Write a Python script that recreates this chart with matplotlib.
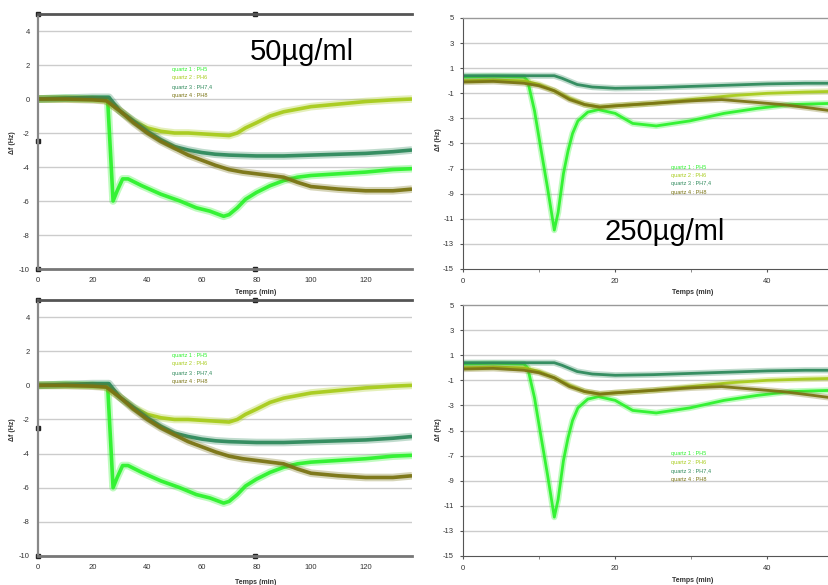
import matplotlib
matplotlib.use("Agg")
import matplotlib.pyplot as plt

W, H = 829, 585
plt.rcParams['font.family'] = ['Liberation Sans', 'DejaVu Sans']
plt.rcParams['axes.unicode_minus'] = False

# ---------------- data ----------------
series_names = ["quartz 1 : PH5", "quartz 2 : PH6", "quartz 3 : PH7,4", "quartz 4 : PH8"]
series_colors = ["#2ef22e", "#a8cc1c", "#2f8a5c", "#7a7414"]

# 50 µg/ml (left panels)
t50_q1 = [0, 10, 20, 25.5, 26.5, 27.5, 29, 31, 33, 38, 45, 52, 58, 63, 68, 70, 73, 76, 80, 85, 90, 95, 100, 110, 120, 130, 137]
v50_q1 = [0, 0.05, 0, 0, -3.0, -6.0, -5.4, -4.7, -4.7, -5.1, -5.6, -6.0, -6.4, -6.6, -6.9, -6.8, -6.4, -5.9, -5.5, -5.1, -4.8, -4.6, -4.5, -4.4, -4.3, -4.15, -4.1]
t50_q2 = [0, 10, 20, 25, 30, 35, 40, 45, 50, 55, 60, 65, 70, 73, 76, 80, 85, 90, 95, 100, 110, 120, 130, 137]
v50_q2 = [0, 0, 0, -0.1, -0.7, -1.3, -1.7, -1.9, -2.0, -2.0, -2.05, -2.1, -2.15, -2.0, -1.7, -1.4, -1.0, -0.75, -0.6, -0.45, -0.3, -0.15, -0.05, 0.0]
t50_q3 = [0, 10, 20, 26, 30, 35, 40, 45, 50, 55, 60, 65, 70, 80, 90, 100, 110, 120, 130, 137]
v50_q3 = [0, 0.05, 0.1, 0.1, -0.7, -1.3, -1.9, -2.4, -2.8, -3.0, -3.15, -3.25, -3.3, -3.35, -3.35, -3.3, -3.25, -3.2, -3.1, -3.0]
t50_q4 = [0, 10, 20, 25, 30, 35, 40, 45, 50, 55, 60, 65, 70, 75, 80, 85, 90, 95, 100, 110, 120, 130, 137]
v50_q4 = [0, 0, -0.05, -0.1, -0.7, -1.4, -2.0, -2.5, -2.9, -3.3, -3.6, -3.9, -4.15, -4.3, -4.4, -4.5, -4.6, -4.9, -5.15, -5.3, -5.4, -5.4, -5.3]

# 250 µg/ml (right panels)
t250_q1 = [0, 4, 8, 8.5, 9.4, 10.2, 11.1, 12, 12.5, 13.2, 13.8, 14.4, 15.1, 16.4, 17.8, 20, 22.3, 25.4, 29.8, 34.3, 38.7, 43, 48.5]
v250_q1 = [0.3, 0.35, 0.3, 0.0, -2.4, -5.3, -8.5, -11.9, -10.5, -7.4, -5.6, -4.2, -3.2, -2.5, -2.3, -2.6, -3.4, -3.6, -3.2, -2.6, -2.2, -1.9, -1.8]
t250_q2 = [0, 4, 8, 10, 12, 14, 16, 18, 20, 25, 30, 35, 40, 45, 48.5]
v250_q2 = [0.0, 0.05, 0.0, -0.3, -0.8, -1.4, -1.9, -2.1, -2.0, -1.8, -1.5, -1.2, -1.0, -0.9, -0.85]
t250_q3 = [0, 4, 8, 12, 13, 15, 17, 20, 25, 30, 35, 40, 45, 48.5]
v250_q3 = [0.4, 0.4, 0.4, 0.4, 0.2, -0.3, -0.5, -0.6, -0.55, -0.45, -0.35, -0.25, -0.2, -0.2]
t250_q4 = [0, 4, 8, 10, 12, 14, 16, 18, 20, 25, 30, 34, 38, 42, 46, 48.5]
v250_q4 = [-0.1, -0.05, -0.2, -0.4, -0.8, -1.5, -1.9, -2.1, -2.0, -1.8, -1.6, -1.5, -1.7, -1.9, -2.2, -2.4]

yticks_50 = [-10, -8, -6, -4, -2, 0, 2, 4]
xticks_50 = [0, 20, 40, 60, 80, 100, 120]
yticks_250 = [-15, -13, -11, -9, -7, -5, -3, -1, 1, 3, 5]
xticks_250 = [0, 20, 40]

data50 = [(t50_q1, v50_q1), (t50_q2, v50_q2), (t50_q3, v50_q3), (t50_q4, v50_q4)]
data250 = [(t250_q1, v250_q1), (t250_q2, v250_q2), (t250_q3, v250_q3), (t250_q4, v250_q4)]

fig = plt.figure(figsize=(W / 100, H / 100), dpi=100)


def add_ax(x0, y0, x1, y1):
    return fig.add_axes([x0 / W, 1 - y1 / H, (x1 - x0) / W, (y1 - y0) / H])


def draw_series(ax, data, band=5.0, core=2.4):
    for (t, v), c in zip(data, series_colors):
        ax.plot(t, v, color=c, lw=band, alpha=0.3, solid_joinstyle='round', solid_capstyle='butt')
        ax.plot(t, v, color=c, lw=core, alpha=0.95, solid_joinstyle='round', solid_capstyle='butt')


def left_panel(x0, y0, x1, y1, legend_xy, xlabel_y, ylabel_y):
    ax = add_ax(x0, y0, x1, y1)
    ax.set_xlim(0, 137)
    ax.set_ylim(-10, 5)
    ax.set_yticks(yticks_50)
    ax.set_xticks(xticks_50)
    ax.tick_params(length=0, labelsize=5.5, labelcolor='#333333', pad=6)
    for y in yticks_50[1:]:
        ax.axhline(y, color='#cccccc', lw=1.0, zorder=0)
    ax.spines['right'].set_visible(False)
    ax.spines['top'].set_color('#555555')
    ax.spines['top'].set_linewidth(2.0)
    ax.spines['bottom'].set_color('#777777')
    ax.spines['bottom'].set_linewidth(2.0)
    ax.spines['left'].set_color('#888888')
    ax.spines['left'].set_linewidth(1.6)
    ax.spines['left'].set_linestyle((0, (1.5, 1)))
    draw_series(ax, data50, band=5.5, core=2.6)
    # selection handles
    ax.plot([0, 0.58, 0, 0, 0.58], [1, 1, 0.5, 0, 0], ls='none', marker='s', ms=2.6,
            color='#222222', transform=ax.transAxes, clip_on=False)
    lx, ly = legend_xy
    for k, (name, c) in enumerate(zip(series_names, series_colors)):
        fig.text(lx / W, 1 - (ly + 9 * k) / H, name, color=c, fontsize=4, va='center', ha='left')
    fig.text(256 / W, 1 - xlabel_y / H, "Temps (min)", fontsize=5, fontweight='bold',
             color='#333333', ha='center', va='center')
    fig.text(13 / W, 1 - ylabel_y / H, "Δf (Hz)", fontsize=5, fontweight='bold',
             color='#333333', ha='center', va='center', rotation=90)
    return ax


def right_panel(x0, y0, x1, y1, legend_xy, xlabel_y, ylabel_y):
    ax = add_ax(x0, y0, x1, y1)
    ax.set_xlim(0, 48.1)
    ax.set_ylim(-15, 5)
    ax.set_yticks(yticks_250)
    ax.set_xticks(xticks_250)
    ax.set_xticks([10, 30], minor=True)
    ax.tick_params(length=2.5, width=0.8, color='#555555', labelsize=5.5, labelcolor='#333333', pad=4)
    ax.tick_params(which='minor', length=2, width=0.6, color='#777777')
    for y in yticks_250[1:-1]:
        ax.axhline(y, color='#cccccc', lw=1.0, zorder=0)
    ax.spines['right'].set_visible(False)
    ax.spines['top'].set_color('#999999')
    ax.spines['top'].set_linewidth(1.0)
    ax.spines['bottom'].set_color('#555555')
    ax.spines['left'].set_color('#555555')
    draw_series(ax, data250, band=4.5, core=2.0)
    lx, ly = legend_xy
    for k, (name, c) in enumerate(zip(series_names, series_colors)):
        fig.text(lx / W, 1 - (ly + 8.5 * k) / H, name, color=c, fontsize=4, va='center', ha='left')
    fig.text(693 / W, 1 - xlabel_y / H, "Temps (min)", fontsize=5, fontweight='bold',
             color='#333333', ha='center', va='center')
    fig.text(439 / W, 1 - ylabel_y / H, "Δf (Hz)", fontsize=5, fontweight='bold',
             color='#333333', ha='center', va='center', rotation=90)
    return ax


ax_tl = left_panel(38, 14, 412, 269, (172, 69), 293, 143)
ax_bl = left_panel(38, 300, 412, 556, (172, 355), 582, 430)
ax_tr = right_panel(463, 18, 829, 269, (671, 167), 293, 140)
ax_br = right_panel(463, 305, 829, 556, (671, 454), 580, 430)

fig.text(302 / W, 1 - 52 / H, "50µg/ml", fontsize=21, ha='center', va='center', color='black')
fig.text(665 / W, 1 - 232 / H, "250µg/ml", fontsize=21, ha='center', va='center', color='black')

fig.savefig("out.png", dpi=100)
